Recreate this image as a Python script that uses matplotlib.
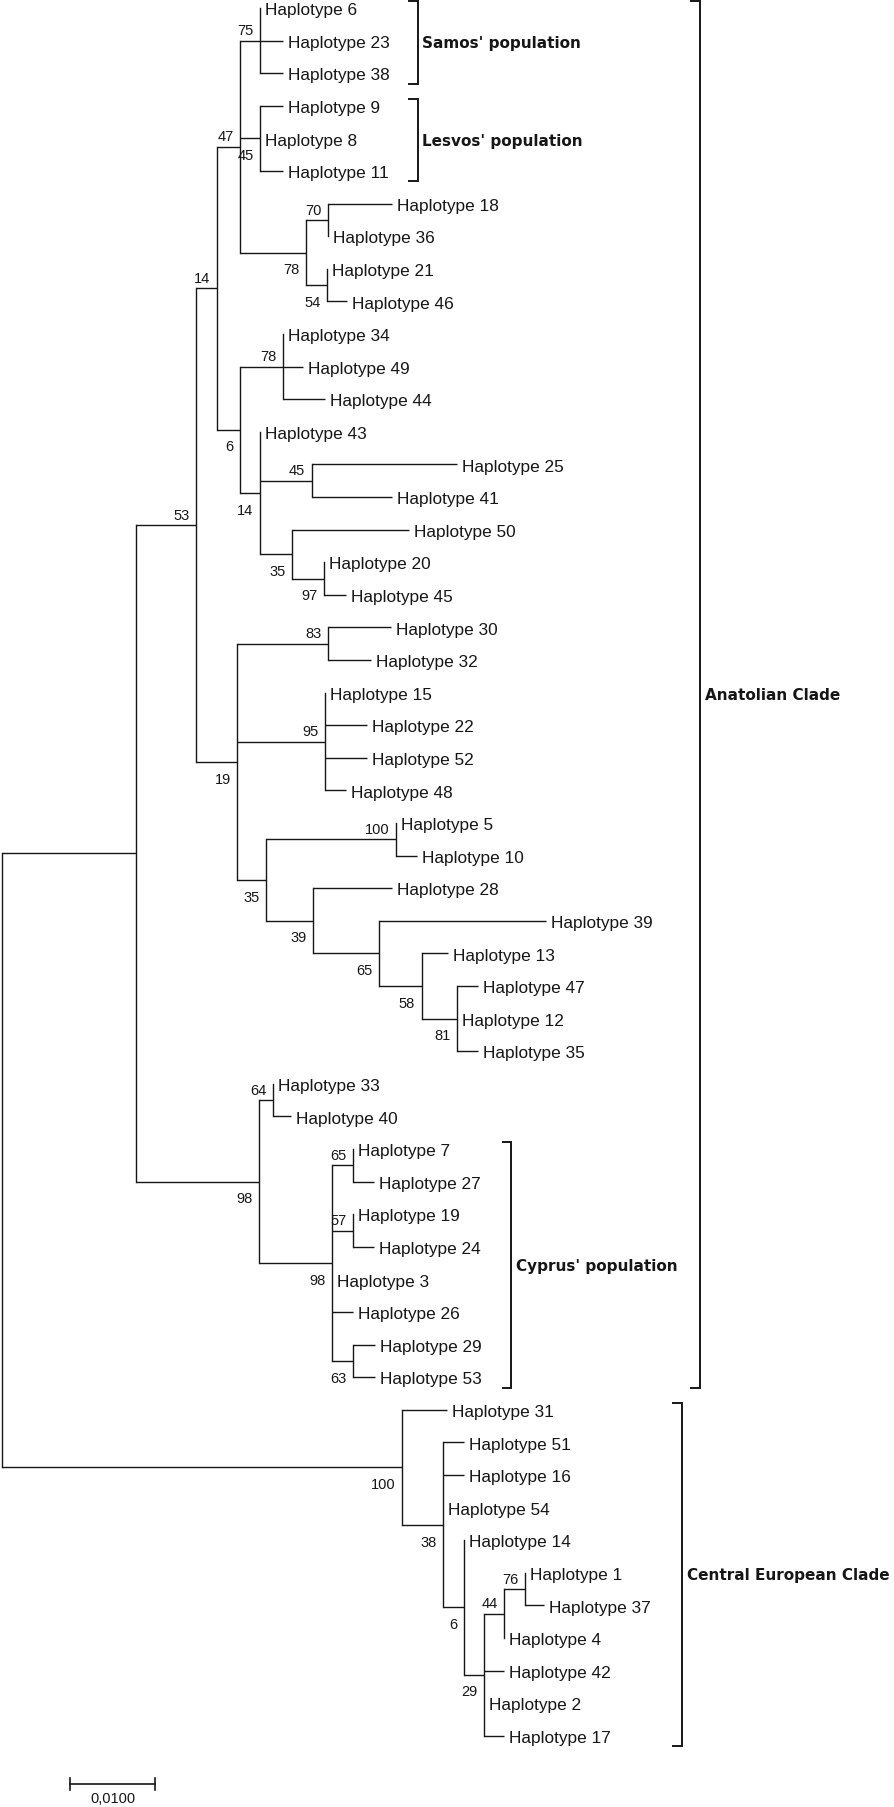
import matplotlib
matplotlib.use("Agg")
import matplotlib.pyplot as plt

# tips, top to bottom, and their distance from the root (substitutions/site)
tips = [6, 23, 38, 9, 8, 11, 18, 36, 21, 46, 34, 49, 44, 43, 25, 41, 50, 20, 45,
        30, 32, 15, 22, 52, 48, 5, 10, 28, 39, 13, 47, 12, 35, 33, 40, 7, 27, 19,
        24, 3, 26, 29, 53, 31, 51, 16, 54, 14, 1, 37, 4, 42, 2, 17]
tip_depth = [0.03039, 0.03306, 0.03306, 0.03306, 0.03039, 0.03306, 0.04588, 0.03835,
             0.03824, 0.04059, 0.03313, 0.03548, 0.03804, 0.03039, 0.05353, 0.04588,
             0.04795, 0.03795, 0.04051, 0.04581, 0.04347, 0.03807, 0.04302, 0.04302,
             0.04046, 0.04633, 0.04882, 0.04588, 0.06400, 0.05254, 0.05600, 0.05353,
             0.05600, 0.03196, 0.03408, 0.04128, 0.04385, 0.04136, 0.04385, 0.03889,
             0.04136, 0.04389, 0.04389, 0.05241, 0.05436, 0.05436, 0.05192, 0.05436,
             0.06151, 0.06384, 0.05914, 0.05914, 0.05669, 0.05914]

# internal nodes (ints = haplotype tips, strings = nodes)
node_ids = ["root", "A", "n53", "n14", "n47", "n75", "n45", "n78", "n70", "n54",
            "n6", "n78b", "n14b", "n45b", "n35", "n97", "n19", "n83", "n95", "n35c",
            "n100", "n39", "n65", "n58", "n81", "n98a", "n64", "n98b", "n65c", "n57",
            "n63", "c100", "c38", "c6", "c29", "c44", "c76"]
node_kids = [["A", "c100"], ["n53", "n98a"], ["n14", "n19"], ["n47", "n6"],
             ["n75", "n45", "n78"], [6, 23, 38], [9, 8, 11], ["n70", "n54"], [18, 36],
             [21, 46], ["n78b", "n14b"], [34, 49, 44], [43, "n45b", "n35"], [25, 41],
             [50, "n97"], [20, 45], ["n83", "n95", "n35c"], [30, 32], [15, 22, 52, 48],
             ["n100", "n39"], [5, 10], [28, "n65"], [39, "n58"], [13, "n81"],
             [47, 12, 35], ["n64", "n98b"], [33, 40], ["n65c", "n57", 3, 26, "n63"],
             [7, 27], [19, 24], [29, 53], [31, "c38"], [51, 16, 54, "c6"], [14, "c29"],
             ["c44", 42, 2, 17], ["c76", 4], [1, 37]]
node_depth = [0.0, 0.01584, 0.02285, 0.02529, 0.02804, 0.03039, 0.03039, 0.03576,
              0.03835, 0.03824, 0.02804, 0.03313, 0.03039, 0.03647, 0.03419, 0.03795,
              0.02772, 0.03839, 0.03807, 0.03109, 0.04633, 0.03666, 0.04442, 0.04941,
              0.05353, 0.03025, 0.03196, 0.03889, 0.04128, 0.04136, 0.04136, 0.04709,
              0.05192, 0.05436, 0.05669, 0.05914, 0.06151]
node_support = [None, None, 53, 14, 47, 75, 45, 78, 70, 54, 6, 78, 14, 45, 35, 97,
                19, 83, 95, 35, 100, 39, 65, 58, 81, 98, 64, 98, 65, 57, 63, 100,
                38, 6, 29, 44, 76]

clade_names = ["Samos' population", "Lesvos' population", "Cyprus' population",
               "Anatolian Clade", "Central European Clade"]
clade_first = [6, 9, 7, 6, 31]
clade_last = [38, 11, 53, 53, 17]

scale_value = 0.01
scale_text = "0,0100"

# ---- layout ----
W, H, DPI = 894, 1808, 100
X0, PX_PER_UNIT = 1.7, 8500.0
ROW0, ROW_PX = 9.0, 32.6
support_below = {"n45", "n78", "n54", "n6", "n14b", "n35", "n97", "n19", "n35c",
                 "n39", "n65", "n58", "n81", "n98a", "n98b", "n63", "c100", "c38",
                 "c6", "c29"}
bracket_x = [0.04894, 0.04894, 0.05996, 0.08215, 0.08004]
scale_x0, scale_row = 0.00804, 54.48
ink = "#161616"
PT = 72.0 / DPI

row = {h: i for i, h in enumerate(tips)}
depth = dict(zip(tips, tip_depth))
depth.update(zip(node_ids, node_depth))
kids = dict(zip(node_ids, node_kids))


def place(n):
    if n not in row:
        ys = [place(k) for k in kids[n]]
        row[n] = (ys[0] + ys[-1]) / 2
    return row[n]


place("root")

fig = plt.figure(figsize=(W / DPI, H / DPI), dpi=DPI)
ax = fig.add_axes([0, 0, 1, 1])
ax.set_xlim(-X0 / PX_PER_UNIT, (W - X0) / PX_PER_UNIT)
ax.set_ylim((H - ROW0) / ROW_PX, -ROW0 / ROW_PX)
ax.axis("off")

for n, sup in zip(node_ids, node_support):
    ys = [row[k] for k in kids[n]]
    ax.plot([depth[n], depth[n]], [ys[0], ys[-1]], color=ink, lw=1.0,
            solid_capstyle="projecting")
    for k in kids[n]:
        if depth[k] > depth[n]:
            ax.plot([depth[n], depth[k]], [row[k], row[k]], color=ink, lw=1.0,
                    solid_capstyle="butt")
    if sup is not None:
        dy = -20.7 if n in support_below else 6.3
        ax.annotate(str(sup), (depth[n], row[n]), xytext=(-6.5 * PT, dy * PT),
                    textcoords="offset points", ha="right", va="baseline",
                    fontsize=10.5, family="Liberation Sans", color=ink)

for h, d in zip(tips, tip_depth):
    ax.annotate(f"Haplotype {h}", (d, row[h]), xytext=(5 * PT, -6.2 * PT),
                textcoords="offset points", ha="left", va="baseline",
                fontsize=12.4, family="Liberation Sans", color=ink)

# clade brackets
tick = 8.7 / PX_PER_UNIT
for name, a, b, bx in zip(clade_names, clade_first, clade_last, bracket_x):
    top, bot = row[a] - 0.22, row[b] + 0.32
    ax.plot([bx - tick, bx, bx, bx - tick], [top, top, bot, bot], color=ink,
            lw=1.4, solid_joinstyle="miter")
    ax.annotate(name, (bx, (top + bot) / 2), xytext=(4.6 * PT, -5 * PT),
                textcoords="offset points", ha="left", va="baseline",
                fontsize=11, weight="bold", family="DejaVu Sans", color=ink)

# scale bar
half = 6 / ROW_PX
x1 = scale_x0 + scale_value
ax.plot([scale_x0, x1], [scale_row, scale_row], color=ink, lw=1.2)
for xx in (scale_x0, x1):
    ax.plot([xx, xx], [scale_row - half, scale_row + half], color=ink, lw=1.2)
ax.annotate(scale_text, ((scale_x0 + x1) / 2, scale_row), xytext=(0, -18.3 * PT),
            textcoords="offset points", ha="center", va="baseline",
            fontsize=10.5, family="Liberation Sans", color=ink)

fig.savefig("out.png", dpi=DPI)
